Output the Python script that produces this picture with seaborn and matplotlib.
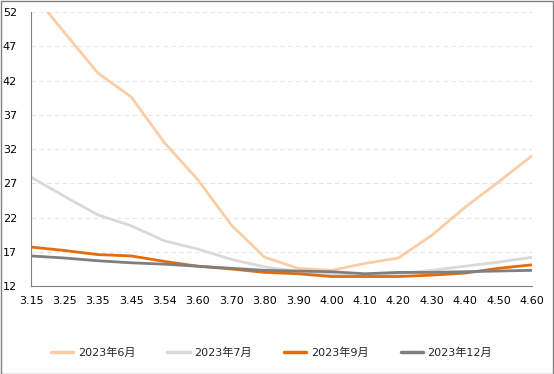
import numpy as np
import pandas as pd
import matplotlib
matplotlib.use("Agg")
import matplotlib.pyplot as plt
import seaborn as sns
from matplotlib.patches import Rectangle

strikes = ["3.15", "3.25", "3.35", "3.45", "3.54", "3.60", "3.70", "3.80",
           "3.90", "4.00", "4.10", "4.20", "4.30", "4.40", "4.50", "4.60"]
jun = [55.0, 49.0, 43.1, 39.6, 32.9, 27.5, 20.9, 16.2,
       14.6, 14.3, 15.3, 16.1, 19.4, 23.5, 27.2, 31.0]
jul = [27.9, 25.1, 22.4, 20.8, 18.6, 17.4, 15.9, 14.8,
       14.1, 13.7, 13.4, 13.8, 14.3, 14.9, 15.5, 16.2]
sep = [17.7, 17.2, 16.6, 16.4, 15.6, 14.9, 14.5, 14.0,
       13.8, 13.4, 13.4, 13.4, 13.6, 13.9, 14.6, 15.1]
dec = [16.4, 16.1, 15.7, 15.4, 15.2, 14.9, 14.6, 14.3,
       14.2, 14.1, 13.8, 14.0, 14.0, 14.1, 14.2, 14.3]
series_names = ["2023年6月", "2023年7月", "2023年9月", "2023年12月"]
colors = ["#FBCDA6", "#D9D9D9", "#E46C0A", "#7F7F7F"]
yticks = [12, 17, 22, 27, 32, 37, 42, 47, 52]

sns.set_theme(style="white")
plt.rcParams["font.family"] = ["DejaVu Sans", "Noto Sans CJK SC"]

rows = []
for name, vals in zip(series_names, [jun, jul, sep, dec]):
    for i, v in enumerate(vals):
        rows.append({"pos": i, "value": v, "series": name})
df = pd.DataFrame(rows)

fig = plt.figure(figsize=(5.54, 3.74), dpi=100)
ax = fig.add_axes([0.056, 0.235, 0.904, 0.733])

sns.lineplot(data=df, x="pos", y="value", hue="series", hue_order=series_names,
             palette=colors, linewidth=2.0, ax=ax, legend=False)

ax.set_xlim(0, len(strikes) - 1)
ax.set_ylim(12, 52)
ax.set_xticks(range(len(strikes)))
ax.set_xticklabels(strikes)
ax.set_yticks(yticks)
ax.set_xlabel("")
ax.set_ylabel("")
ax.tick_params(axis="x", length=4, width=0.8, color="#808080", labelsize=8,
               labelcolor="#000000", pad=3, direction="out")
ax.tick_params(axis="y", length=0, labelsize=8, labelcolor="#000000", pad=10)
ax.grid(axis="y", color="#E6E6E6", linestyle=(0, (4, 3)), linewidth=0.8)
for s in ["top", "right"]:
    ax.spines[s].set_visible(False)
for s in ["left", "bottom"]:
    ax.spines[s].set_color("#808080")
    ax.spines[s].set_linewidth(0.8)

handles = [plt.Line2D([], [], color=c, linewidth=2.5) for c in colors]
fig.legend(handles, series_names, loc="center", bbox_to_anchor=(0.49, 0.057),
           ncol=4, frameon=False, fontsize=8, handlelength=2.0,
           handletextpad=0.4, columnspacing=2.9)

fig.patches.append(Rectangle((0.001, 0.001), 0.997, 0.996, transform=fig.transFigure,
                             fill=False, edgecolor="#808080", linewidth=1.0))

fig.savefig("out.png", dpi=100)
